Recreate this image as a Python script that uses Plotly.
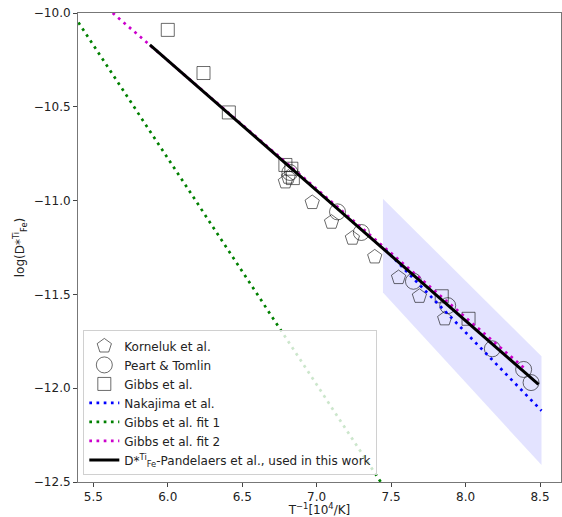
import plotly.graph_objects as go

# ---- data ----
korneluk_x = [6.79, 6.81, 6.97, 7.10, 7.24, 7.39, 7.55, 7.69, 7.86]
korneluk_y = [-10.90, -10.875, -11.01, -11.115, -11.20, -11.30, -11.41, -11.51, -11.63]

peart_x = [6.82, 7.14, 7.30, 7.65, 7.88, 8.18, 8.39, 8.44]
peart_y = [-10.85, -11.06, -11.17, -11.43, -11.56, -11.79, -11.90, -11.97]

gibbs_x = [6.00, 6.24, 6.41, 6.79, 6.83, 6.84, 7.84, 8.02]
gibbs_y = [-10.09, -10.32, -10.53, -10.81, -10.83, -10.88, -11.51, -11.63]

nakajima_x = [7.46, 8.51]
nakajima_y = [-11.26, -12.12]

gibbs_fit1_x = [5.40, 7.43]
gibbs_fit1_y = [-10.05, -12.50]

gibbs_fit2_x = [5.63, 8.39]
gibbs_fit2_y = [-10.00, -11.89]

pandelaers_x = [5.88, 8.49]
pandelaers_y = [-10.17, -11.98]

band_x = [7.445, 8.51]
band_upper = [-10.99, -11.83]
band_lower = [-11.49, -12.41]

x_ticks = [5.5, 6.0, 6.5, 7.0, 7.5, 8.0, 8.5]
y_ticks = [-12.5, -12.0, -11.5, -11.0, -10.5, -10.0]

FONT = "DejaVu Sans"
edge = "rgba(0,0,0,0.58)"
dot = "2.7px,4.5px"

fig = go.Figure()

# shaded uncertainty band
fig.add_trace(go.Scatter(
    x=band_x + band_x[::-1], y=band_upper + band_lower[::-1],
    fill="toself", fillcolor="rgba(0,0,255,0.11)", mode="lines",
    line=dict(width=0), showlegend=False, hoverinfo="skip"))

fig.add_trace(go.Scatter(
    x=korneluk_x, y=korneluk_y, mode="markers", name="Korneluk et al.",
    marker=dict(symbol="pentagon-open", size=15, color=edge, line=dict(width=1, color=edge))))
fig.add_trace(go.Scatter(
    x=peart_x, y=peart_y, mode="markers", name="Peart &amp; Tomlin",
    marker=dict(symbol="circle-open", size=16, color=edge, line=dict(width=1, color=edge))))
fig.add_trace(go.Scatter(
    x=gibbs_x, y=gibbs_y, mode="markers", name="Gibbs et al.",
    marker=dict(symbol="square-open", size=13, color=edge, line=dict(width=1, color=edge))))

fig.add_trace(go.Scatter(
    x=nakajima_x, y=nakajima_y, mode="lines", name="Nakajima et al.",
    line=dict(color="#0000ff", width=2.7, dash=dot)))
fig.add_trace(go.Scatter(
    x=gibbs_fit1_x, y=gibbs_fit1_y, mode="lines", name="Gibbs et al. fit 1",
    line=dict(color="#008000", width=2.7, dash=dot)))
fig.add_trace(go.Scatter(
    x=gibbs_fit2_x, y=gibbs_fit2_y, mode="lines", name="Gibbs et al. fit 2",
    line=dict(color="#cc00cc", width=2.7, dash=dot)))
fig.add_trace(go.Scatter(
    x=pandelaers_x, y=pandelaers_y, mode="lines",
    name="D*<sup>Ti</sup><sub>Fe</sub>-Pandelaers et al., used in this work",
    line=dict(color="black", width=3)))

axis_common = dict(
    showgrid=False, zeroline=False, showline=True, mirror=True,
    linecolor="#777", linewidth=1, ticks="outside", ticklen=4,
    tickcolor="#444", tickformat=".1f", automargin=False,
    tickfont=dict(family=FONT, size=12, color="#222"),
)

fig.update_layout(
    width=562, height=517,
    margin=dict(l=78, r=1, t=13, b=35, pad=0),
    paper_bgcolor="white", plot_bgcolor="white",
    font=dict(family=FONT, size=12, color="#222"),
    xaxis=dict(range=[5.397, 8.641], tickvals=x_ticks,
               title=dict(text="T<sup>−1</sup>[10<sup>4</sup>/K]", standoff=0,
                          font=dict(family=FONT, size=12)),
               **axis_common),
    yaxis=dict(range=[-12.5, -10.0], tickvals=y_ticks,
               title=dict(text="log(D*<sup>Ti</sup><sub>Fe</sub>)", standoff=6,
                          font=dict(family=FONT, size=12)),
               **axis_common),
    legend=dict(x=0.011, y=0.014, xanchor="left", yanchor="bottom",
                bgcolor="rgba(255,255,255,0.8)", bordercolor="#d0d0d0", borderwidth=1,
                font=dict(family=FONT, size=12, color="#222"), tracegroupgap=0,
                itemwidth=30),
    showlegend=True,
)

fig.write_html("out.html",
               config={"displayModeBar": False},
               post_script="document.body.style.margin='0';document.body.style.overflow='hidden';")
